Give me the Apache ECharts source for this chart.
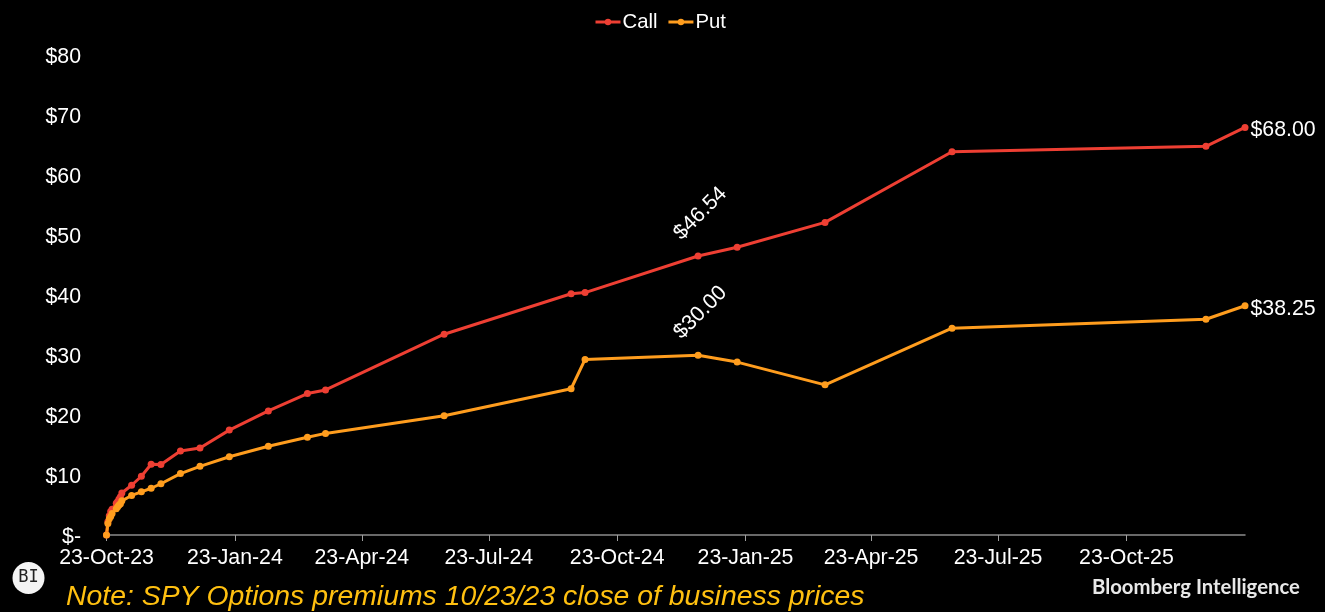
<!DOCTYPE html>
<html>
<head>
<meta charset="utf-8">
<style>html,body{margin:0;padding:0;background:#000}#c{width:1325px;height:612px}</style>
<script src="https://cdn.jsdelivr.net/npm/echarts@6/dist/echarts.min.js"></script>
</head>
<body>
<div id="c"></div>
<script>
const dates = ['2023-10-23','2023-10-24','2023-10-25','2023-10-26','2023-10-27','2023-10-30','2023-10-31','2023-11-01','2023-11-02','2023-11-03','2023-11-10','2023-11-17','2023-11-24','2023-12-01','2023-12-15','2023-12-29','2024-01-19','2024-02-16','2024-03-15','2024-03-28','2024-06-21','2024-09-20','2024-09-30','2024-12-20','2025-01-17','2025-03-21','2025-06-20','2025-12-19','2026-01-16'];
const callValues = [0,2.2,3.2,3.9,4.3,5.3,5.6,6,6.4,7,8.3,9.8,11.8,11.75,14,14.5,17.5,20.7,23.6,24.2,33.5,40.25,40.45,46.54,48,52.15,63.95,64.85,68];
const putValues = [0,1.9,2.7,3.1,3.6,4.4,4.7,5,5.2,5.7,6.6,7.2,7.8,8.55,10.25,11.45,13.05,14.8,16.3,16.95,19.9,24.4,29.3,30,28.85,25.05,34.5,36,38.25];
const tickDates = ['2023-10-23','2024-01-23','2024-04-23','2024-07-23','2024-10-23','2025-01-23','2025-04-23','2025-07-23','2025-10-23'];
const tickLabels = ['23-Oct-23','23-Jan-24','23-Apr-24','23-Jul-24','23-Oct-24','23-Jan-25','23-Apr-25','23-Jul-25','23-Oct-25'];
const axisStart = '2023-10-23';
const axisEnd = '2026-01-16';
const yTickLabels = ['$-','$10','$20','$30','$40','$50','$60','$70','$80'];
const noteText = 'Note: SPY Options premiums 10/23/23 close of business prices';
const brandText = 'Bloomberg Intelligence';

const ms = s => Date.parse(s + 'T00:00:00Z');
const tickMs = tickDates.map(ms);
const labelFont = 'Liberation Sans, Arial, sans-serif';
const fs = 21.3;
const labelAt = {
  23: {rotate: 45, position: 'top', offset: [25.8, -11.9]},
  28: {position: 'right', offset: [-3, 3]}
};
function points(values) {
  return values.map((v, i) => {
    const d = {value: [ms(dates[i]), v]};
    const l = labelAt[i];
    if (l) {
      d.label = Object.assign({show: true, color: '#fff', fontSize: fs, fontFamily: labelFont,
        formatter: p => '$' + p.value[1].toFixed(2)}, l);
    }
    return d;
  });
}
const chart = echarts.init(document.getElementById('c'), null, {renderer: 'canvas'});
chart.setOption({
  backgroundColor: '#000',
  animation: false,
  legend: {
    top: 7, left: 589, itemWidth: 25, itemHeight: 8, itemGap: 9.5,
    textStyle: {color: '#fff', fontSize: 20.3, fontFamily: labelFont, padding: [0, 0, 0, -3]},
    lineStyle: {width: 3},
    data: ['Call', 'Put']
  },
  grid: {left: 106.5, right: 80, top: 55.5, bottom: 77, containLabel: false},
  xAxis: {
    type: 'value',
    min: ms(axisStart), max: ms(axisEnd),
    splitLine: {show: false},
    axisLine: {show: true, lineStyle: {color: '#8c8c8c', width: 1.5}},
    axisTick: {show: true, length: 6, customValues: tickMs, lineStyle: {color: '#a0a0a0', width: 1}},
    axisLabel: {
      show: true, customValues: tickMs, color: '#fff', fontSize: fs, fontFamily: labelFont, margin: 13,
      hideOverlap: false, showMinLabel: true, showMaxLabel: true,
      formatter: v => tickLabels[tickMs.indexOf(v)]
    }
  },
  yAxis: {
    type: 'value', min: 0, max: 80, interval: 10,
    splitLine: {show: false},
    axisLine: {show: false},
    axisTick: {show: false},
    axisLabel: {margin: 25.5,
      formatter: v => '{t|' + yTickLabels[v / 10] + '}',
      rich: {t: {color: '#fff', fontSize: fs, fontFamily: labelFont, padding: [4, 0, 0, 0]}}}
  },
  series: [
    {name: 'Call', type: 'line', data: points(callValues), symbol: 'circle', symbolSize: 7,
      lineStyle: {color: '#ee3f33', width: 3}, itemStyle: {color: '#ee3f33'}, clip: false},
    {name: 'Put', type: 'line', data: points(putValues), symbol: 'circle', symbolSize: 7,
      lineStyle: {color: '#ff9d1e', width: 3}, itemStyle: {color: '#ff9d1e'}, clip: false}
  ],
  graphic: [
    {type: 'circle', shape: {cx: 28.5, cy: 578, r: 16}, style: {fill: '#f4f4f4'}},
    {type: 'text', x: 28.5, y: 578, style: {text: 'BI', fill: '#222', font: '17px "DejaVu Sans Mono", monospace', align: 'center', verticalAlign: 'middle'}},
    {type: 'text', x: 66, y: 597.5, style: {text: noteText, fill: '#ffc010', font: 'italic 28.4px "Liberation Sans", Arial, sans-serif', align: 'left', verticalAlign: 'middle'}},
    {type: 'text', x: 1092, y: 587, style: {text: brandText, fill: '#e8e8e8', font: '700 20.3px Lato, sans-serif', align: 'left', verticalAlign: 'middle'}}
  ]
});
</script>
</body>
</html>
